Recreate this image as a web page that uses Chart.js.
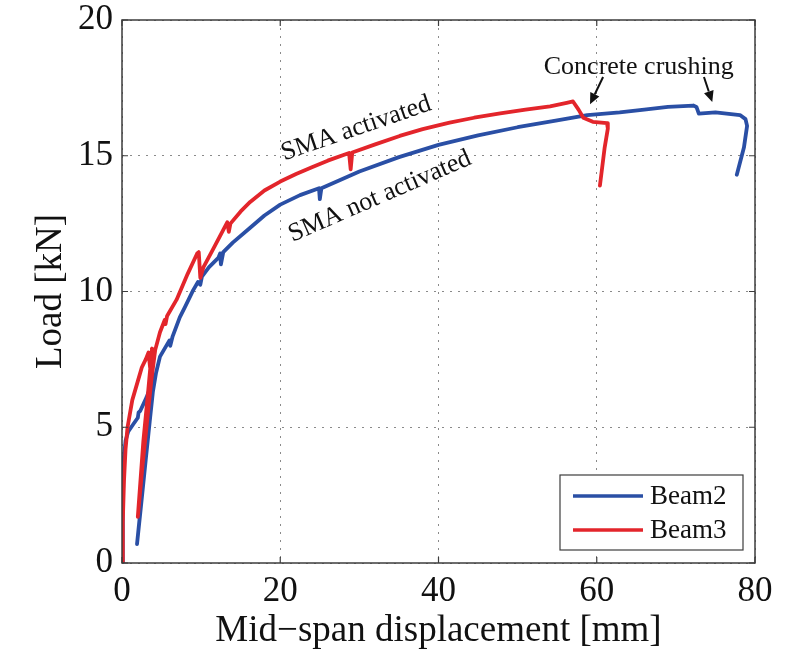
<!DOCTYPE html>
<html><head><meta charset="utf-8">
<script src="https://cdn.jsdelivr.net/npm/chart.js@4.4.0/dist/chart.umd.min.js"></script>
<style>html,body{margin:0;padding:0;background:#fff}#wrap{width:793px;height:650px;position:relative}</style>
</head><body><div id="wrap"><canvas id="c" width="793" height="650"></canvas></div>
<script>
// ---- data ----
const beam2X = [0, 0.1, 0.2, 0.45, 0.8, 1.4, 2.0, 2.1, 2.3, 3.1, 3.75, 4.1, 3.6, 2.8, 1.9, 2.4, 3.0, 3.5, 3.9, 4.3, 4.8, 5.5, 6.0, 6.1, 6.4, 7.3, 8.0, 9.0, 9.6, 9.9, 10.1, 11.0, 12.2, 12.4, 12.5, 12.8, 14.0, 16.2, 18.0, 20.0, 22.5, 24.9, 25.0, 25.2, 27.5, 30.0, 35.0, 40.0, 45.0, 50.0, 55.0, 58.8, 62.9, 66.0, 69.0, 72.2, 72.6, 72.9, 75.0, 78.1, 78.8, 79.0, 78.6, 77.7];
const beam2Y = [0, 2.0, 3.8, 4.5, 4.85, 5.1, 5.35, 5.55, 5.6, 6.1, 6.6, 6.9, 5.6, 3.3, 0.7, 2.1, 3.8, 5.2, 6.3, 7.0, 7.6, 7.95, 8.2, 8.0, 8.35, 9.05, 9.45, 10.05, 10.35, 10.25, 10.55, 10.9, 11.25, 11.4, 11.0, 11.45, 11.8, 12.35, 12.8, 13.2, 13.55, 13.8, 13.4, 13.8, 14.1, 14.42, 14.95, 15.4, 15.75, 16.05, 16.3, 16.5, 16.6, 16.7, 16.8, 16.85, 16.8, 16.55, 16.6, 16.5, 16.35, 16.1, 15.3, 14.3];

const beam3X = [0, 0.1, 0.25, 0.45, 0.7, 1.3, 2.0, 2.5, 3.0, 3.35, 3.55, 3.8, 3.3, 2.7, 2.0, 2.6, 3.2, 3.7, 4.2, 4.8, 5.4, 5.5, 5.7, 6.9, 8.3, 9.5, 9.7, 9.9, 10.3, 11.5, 12.4, 13.3, 13.5, 13.7, 15.0, 16.2, 18.0, 20.0, 22.0, 24.0, 26.0, 28.7, 28.9, 29.1, 32.0, 35.1, 38.0, 41.4, 44.5, 47.8, 51.0, 54.1, 56.2, 57.0, 57.7, 58.3, 59.5, 61.3, 61.4, 61.0, 60.4];
const beam3Y = [0, 1.5, 3.0, 4.2, 5.0, 6.0, 6.7, 7.2, 7.5, 7.75, 7.2, 7.9, 6.3, 4.5, 1.7, 3.6, 5.3, 6.7, 7.85, 8.5, 8.95, 8.8, 9.1, 9.7, 10.65, 11.4, 11.45, 10.5, 10.9, 11.55, 12.05, 12.55, 12.2, 12.5, 12.95, 13.3, 13.72, 14.05, 14.33, 14.58, 14.82, 15.1, 14.5, 15.12, 15.42, 15.73, 15.98, 16.22, 16.4, 16.56, 16.7, 16.82, 16.95, 17.0, 16.7, 16.4, 16.25, 16.2, 16.0, 15.3, 13.9];

const seriesNames = ['Beam2', 'Beam3'];
const seriesColors = ['#2a4fa5', '#e3252b'];
const xTicks = [0, 20, 40, 60, 80];
const yTicks = [0, 5, 10, 15, 20];
const xTitle = 'Mid\u2212span displacement [mm]';
const yTitle = 'Load [kN]';
const labelTexts = ['SMA activated', 'SMA not activated', 'Concrete crushing'];
const labelX = [29.6, 32.6, 65.3];
const labelY = [16.0, 13.5, 18.27];
const labelAngle = [-19, -23.5, 0];
const arrowFromX = [60.8, 73.55];
const arrowFromY = [17.9, 17.9];
const arrowToX = [59.15, 74.6];
const arrowToY = [16.9, 16.98];

const FONT = "'Liberation Serif', 'Times New Roman', serif";
const toPts = (xs, ys) => xs.map((x, i) => ({x: x, y: ys[i]}));

const framePlugin = {
  id: 'frame',
  afterDraw(chart) {
    const ctx = chart.ctx, ca = chart.chartArea;
    const xs = chart.scales.x, ys = chart.scales.y;
    ctx.save();
    // frame box
    ctx.strokeStyle = '#3c3c3c';
    ctx.lineWidth = 1.5;
    ctx.strokeRect(ca.left, ca.top, ca.right - ca.left, ca.bottom - ca.top);
    // inward tick marks
    ctx.lineWidth = 1.2;
    ctx.beginPath();
    xTicks.forEach(v => {
      const p = xs.getPixelForValue(v);
      ctx.moveTo(p, ca.bottom); ctx.lineTo(p, ca.bottom - 6);
      ctx.moveTo(p, ca.top); ctx.lineTo(p, ca.top + 6);
    });
    yTicks.forEach(v => {
      const p = ys.getPixelForValue(v);
      ctx.moveTo(ca.left, p); ctx.lineTo(ca.left + 6, p);
      ctx.moveTo(ca.right, p); ctx.lineTo(ca.right - 6, p);
    });
    ctx.stroke();

    // annotation texts
    ctx.fillStyle = '#111';
    ctx.font = "26px " + FONT;
    ctx.textAlign = 'center';
    ctx.textBaseline = 'middle';
    labelTexts.forEach((t, i) => {
      ctx.save();
      ctx.translate(xs.getPixelForValue(labelX[i]), ys.getPixelForValue(labelY[i]));
      ctx.rotate(labelAngle[i] * Math.PI / 180);
      ctx.fillText(t, 0, 0);
      ctx.restore();
    });
    // arrows
    ctx.strokeStyle = '#111';
    ctx.fillStyle = '#111';
    ctx.lineWidth = 2;
    arrowFromX.forEach((_, i) => {
      const x1 = xs.getPixelForValue(arrowFromX[i]), y1 = ys.getPixelForValue(arrowFromY[i]);
      const x2 = xs.getPixelForValue(arrowToX[i]), y2 = ys.getPixelForValue(arrowToY[i]);
      const a = Math.atan2(y2 - y1, x2 - x1);
      const hl = 11, hw = 5;
      const bx = x2 - hl * Math.cos(a), by = y2 - hl * Math.sin(a);
      ctx.beginPath(); ctx.moveTo(x1, y1); ctx.lineTo(bx, by); ctx.stroke();
      ctx.beginPath();
      ctx.moveTo(x2, y2);
      ctx.lineTo(bx + hw * Math.sin(a), by - hw * Math.cos(a));
      ctx.lineTo(bx - hw * Math.sin(a), by + hw * Math.cos(a));
      ctx.closePath(); ctx.fill();
    });

    // legend
    const bw = 183, bh = 75;
    const bx = ca.right - 12 - bw, by = ca.bottom - 13 - bh;
    ctx.fillStyle = '#fff';
    ctx.fillRect(bx, by, bw, bh);
    ctx.strokeStyle = '#3c3c3c';
    ctx.lineWidth = 1.2;
    ctx.strokeRect(bx, by, bw, bh);
    ctx.font = "27px " + FONT;
    ctx.textAlign = 'left';
    ctx.textBaseline = 'middle';
    seriesNames.forEach((n, i) => {
      const yy = by + 21 + i * 34;
      ctx.strokeStyle = seriesColors[i];
      ctx.lineWidth = 3.5;
      ctx.beginPath(); ctx.moveTo(bx + 13, yy); ctx.lineTo(bx + 83, yy); ctx.stroke();
      ctx.fillStyle = '#111';
      ctx.fillText(n, bx + 90, yy + 1);
    });
    ctx.restore();
  }
};

new Chart(document.getElementById('c'), {
  type: 'line',
  data: {
    datasets: [
      {label: seriesNames[1], data: toPts(beam3X, beam3Y), borderColor: seriesColors[1], backgroundColor: seriesColors[1], borderWidth: 3.8, pointRadius: 0, tension: 0, fill: false, borderJoinStyle: 'round', borderCapStyle: 'round'},
      {label: seriesNames[0], data: toPts(beam2X, beam2Y), borderColor: seriesColors[0], backgroundColor: seriesColors[0], borderWidth: 3.8, pointRadius: 0, tension: 0, fill: false, borderJoinStyle: 'round', borderCapStyle: 'round'}
    ]
  },
  options: {
    responsive: false,
    animation: false,
    devicePixelRatio: 1,
    layout: {padding: {left: 0, right: 38, top: 20, bottom: 0}},
    plugins: {legend: {display: false}, tooltip: {enabled: false}},
    scales: {
      x: {
        type: 'linear', min: 0, max: 80,
        afterBuildTicks: s => { s.ticks = xTicks.map(v => ({value: v})); },
        afterFit: s => { s.height = 87; },
        ticks: {font: {family: FONT, size: 35}, color: '#111', padding: 8, maxRotation: 0},
        grid: {color: '#8a8a8a', lineWidth: 1, drawTicks: false},
        border: {display: false, dash: [2, 6]},
        title: {display: true, text: xTitle, font: {family: FONT, size: 37}, color: '#111', padding: {top: 0, bottom: -3}}
      },
      y: {
        type: 'linear', min: 0, max: 20,
        afterBuildTicks: s => { s.ticks = yTicks.map(v => ({value: v})); },
        afterFit: s => { s.width = 122; },
        ticks: {font: {family: FONT, size: 35, lineHeight: 0.6}, color: '#111', padding: 9},
        grid: {color: '#8a8a8a', lineWidth: 1, drawTicks: false},
        border: {display: false, dash: [2, 6]},
        title: {display: true, text: yTitle, font: {family: FONT, size: 37}, color: '#111', padding: {top: 29, bottom: 0}}
      }
    }
  },
  plugins: [framePlugin]
});
</script>
</body></html>
